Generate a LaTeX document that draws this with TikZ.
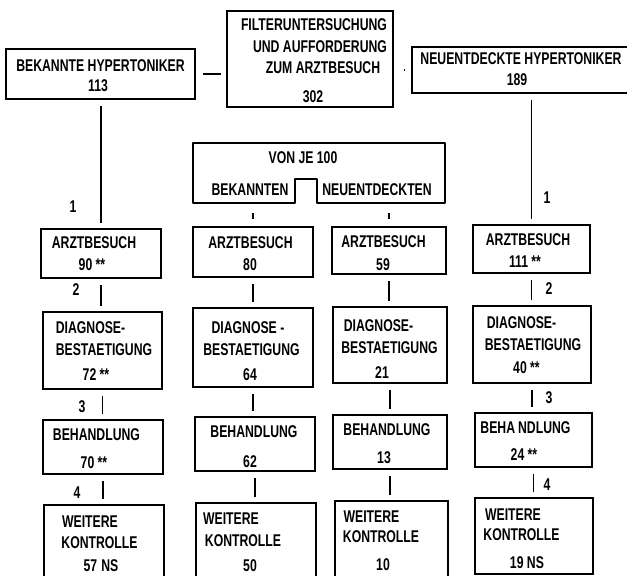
\documentclass[tikz,border=0pt]{standalone}
\usepackage{fontspec}
\newfontfamily\cf[FakeStretch=0.72]{Liberation Sans}
\begin{document}
\begin{tikzpicture}[x=1pt,y=-1pt,
  box/.style={draw=black, line width=1.8pt, rectangle, inner sep=0pt},
  conn/.style={draw=black, line width=1.8pt, shorten <=6pt, shorten >=5pt},
  tick/.style={draw=black, line width=1.8pt, shorten <=10pt, shorten >=7pt},
  txt/.style={inner sep=0pt, anchor=center, font=\cf\bfseries\fontsize{17}{20}\selectfont}]
\useasboundingbox[fill=white] (0,0) rectangle (627,576);
% top row boxes
\node[box, minimum width=189pt, minimum height=50pt] (bk) at (100.5,74) {};
\node[box, minimum width=166pt, minimum height=96pt] (f) at (310,59) {};
\node[box, minimum width=233pt, minimum height=46pt] (nd) at (528.5,70) {};
% column 1
\node[box, minimum width=120pt, minimum height=49pt] (a1) at (101,253.5) {};
\node[box, minimum width=119pt, minimum height=77pt] (d1) at (102.5,350.5) {};
\node[box, minimum width=120pt, minimum height=54pt] (b1) at (103,447) {};
\node[box, minimum width=120pt, minimum height=95pt] (w1) at (104,552.5) {};
% column 2
\node[box, minimum width=120pt, minimum height=50pt] (a2) at (253,252) {};
\node[box, minimum width=120pt, minimum height=79pt] (d2) at (253,347.5) {};
\node[box, minimum width=120pt, minimum height=54pt] (b2) at (255,444) {};
\node[box, minimum width=120pt, minimum height=97pt] (w2) at (256,551.5) {};
% column 3
\node[box, minimum width=114pt, minimum height=47pt] (a3) at (389,250.5) {};
\node[box, minimum width=114pt, minimum height=76pt] (d3) at (390,345) {};
\node[box, minimum width=114pt, minimum height=54pt] (b3) at (390,442) {};
\node[box, minimum width=113pt, minimum height=99pt] (w3) at (391.5,550.5) {};
% column 4
\node[box, minimum width=117pt, minimum height=48pt] (a4) at (531.5,249) {};
\node[box, minimum width=118pt, minimum height=77pt] (d4) at (532,344.5) {};
\node[box, minimum width=117pt, minimum height=54pt] (b4) at (533.5,440) {};
\node[box, minimum width=118pt, minimum height=76pt] (w4) at (534,536) {};
% notched box
\draw[line width=1.8pt, line join=round] (193,143) -- (445,143) -- (445,203) -- (317,203) -- (317,179) -- (295,179) -- (295,203) -- (193,203) -- cycle;
\coordinate (vbl) at (253,203);
\coordinate (vbr) at (389,203);
% texts top
\node[txt] (tbk1) at (100.5,66) {BEKANNTE HYPERTONIKER};
\node[txt] (tbk2) at (98,86) {113};
\node[txt] (tf1) at (314,25) {FILTERUNTERSUCHUNG};
\node[txt] (tf2) at (320,47) {UND AUFFORDERUNG};
\node[txt] (tf3) at (323,68) {ZUM ARZTBESUCH};
\node[txt] (tf4) at (313,97) {302};
\node[txt] (tnd1) at (521,59) {NEUENTDECKTE HYPERTONIKER};
\node[txt] (tnd2) at (517,80) {189};
\node[txt] (tv1) at (303,158) {VON JE 100};
\node[txt] (tv2) at (250,190) {BEKANNTEN};
\node[txt] (tv3) at (377,190) {NEUENTDECKTEN};
% column 1 texts
\node[txt] (c1a1) at (94,243) {ARZTBESUCH};
\node[txt] (c1a2) at (92,265) {90 **};
\node[txt] (c1d1) at (90.5,328) {DIAGNOSE-};
\node[txt] (c1d2) at (104,350) {BESTAETIGUNG};
\node[txt] (c1d3) at (96,375) {72 **};
\node[txt] (c1b1) at (96.5,435) {BEHANDLUNG};
\node[txt] (c1b2) at (94,463) {70 **};
\node[txt] (c1w1) at (90,522) {WEITERE};
\node[txt] (c1w2) at (99.5,543) {KONTROLLE};
\node[txt] (c1w3) at (101,566) {57\hspace{4pt}NS};
% column 2 texts
\node[txt] (c2a1) at (250.5,243) {ARZTBESUCH};
\node[txt] (c2a2) at (250,265) {80};
\node[txt] (c2d1) at (248,328) {DIAGNOSE -};
\node[txt] (c2d2) at (251.5,350) {BESTAETIGUNG};
\node[txt] (c2d3) at (250,375) {64};
\node[txt] (c2b1) at (254,432) {BEHANDLUNG};
\node[txt] (c2b2) at (250,462) {62};
\node[txt] (c2w1) at (231,519) {WEITERE};
\node[txt] (c2w2) at (243,541) {KONTROLLE};
\node[txt] (c2w3) at (250,566) {50};
% column 3 texts
\node[txt] (c3a1) at (383.5,242) {ARZTBESUCH};
\node[txt] (c3a2) at (383,265) {59};
\node[txt] (c3d1) at (378.5,326) {DIAGNOSE-};
\node[txt] (c3d2) at (389.5,348) {BESTAETIGUNG};
\node[txt] (c3d3) at (382,373) {21};
\node[txt] (c3b1) at (387,430) {BEHANDLUNG};
\node[txt] (c3b2) at (384,458) {13};
\node[txt] (c3w1) at (371.5,517) {WEITERE};
\node[txt] (c3w2) at (381,537) {KONTROLLE};
\node[txt] (c3w3) at (383,565) {10};
% column 4 texts
\node[txt] (c4a1) at (528,240) {ARZTBESUCH};
\node[txt] (c4a2) at (525,262) {111 **};
\node[txt] (c4d1) at (521.5,323) {DIAGNOSE-};
\node[txt] (c4d2) at (533,345) {BESTAETIGUNG};
\node[txt] (c4d3) at (526.5,368) {40 **};
\node[txt] (c4b1) at (525.5,428) {BEHA\hspace{3pt}NDLUNG};
\node[txt] (c4b2) at (524,455) {24 **};
\node[txt] (c4w1) at (513,515) {WEITERE};
\node[txt] (c4w2) at (521.5,535) {KONTROLLE};
\node[txt] (c4w3) at (527,563) {19 NS};
% step labels
\node[txt] (l11) at (73,207) {1};
\node[txt] (l12) at (76,290) {2};
\node[txt] (l13) at (82,407) {3};
\node[txt] (l14) at (77,493) {4};
\node[txt] (l41) at (547,198) {1};
\node[txt] (l42) at (549,289) {2};
\node[txt] (l43) at (549,398) {3};
\node[txt] (l44) at (547,485) {4};
% connectors top
\draw[line width=1.8pt, shorten <=7pt, shorten >=5pt] (bk.east) -- (bk.east -| f.west);
\draw[line width=1.8pt, shorten <=10pt, shorten >=7pt] (nd.west -| f.east) -- (nd.west);
\draw[conn] (a1.north |- bk.south) -- (a1.north);
\draw[conn] (a4.north |- nd.south) -- (a4.north);
\draw[tick] (vbl) -- (a2.north);
\draw[tick] (vbr) -- (a3.north);
% column connectors
\draw[conn] (a1.south) -- (a1.south |- d1.north);
\draw[conn] (d1.south) -- (d1.south |- b1.north);
\draw[conn] (b1.south) -- (b1.south |- w1.north);
\draw[conn] (a2.south) -- (a2.south |- d2.north);
\draw[conn] (d2.south) -- (d2.south |- b2.north);
\draw[conn] (b2.south) -- (b2.south |- w2.north);
\draw[conn] (a3.south) -- (a3.south |- d3.north);
\draw[conn] (d3.south) -- (d3.south |- b3.north);
\draw[conn] (b3.south) -- (b3.south |- w3.north);
\draw[conn] (a4.south) -- (a4.south |- d4.north);
\draw[conn] (d4.south) -- (d4.south |- b4.north);
\draw[conn] (b4.south) -- (b4.south |- w4.north);
\end{tikzpicture}
\end{document}
